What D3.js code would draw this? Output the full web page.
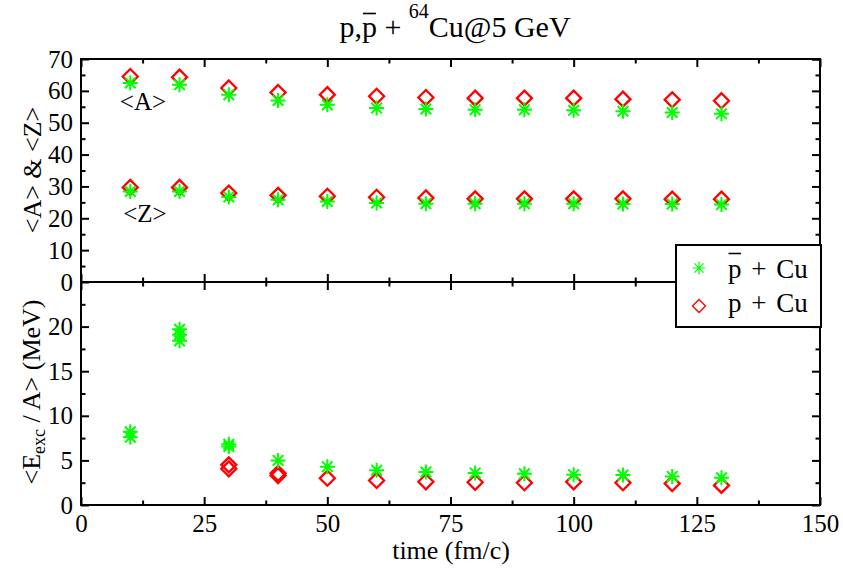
<!DOCTYPE html>
<html><head><meta charset="utf-8">
<script src="https://cdn.jsdelivr.net/npm/d3@7"></script>
<style>
html,body{margin:0;padding:0;background:#fff;}
text{font-family:"Liberation Serif","Times New Roman",serif;fill:#000;}
</style></head>
<body>
<svg id="c" width="843" height="569"></svg>
<script>
// ---- data ----
const times = [10,20,30,40,50,60,70,80,90,100,110,120,130];
const aPbar = [62.5,61.9,58.8,57.0,55.6,54.6,54.3,54.1,54.1,53.9,53.6,53.2,52.8];
const aP    = [64.5,64.3,60.9,59.5,58.8,58.3,57.9,57.7,57.7,57.7,57.4,57.2,56.9];
const zPbar = [28.4,28.4,26.7,25.8,25.3,24.8,24.6,24.6,24.6,24.6,24.5,24.5,24.3];
const zP    = [29.7,29.7,27.9,27.2,26.9,26.6,26.4,26.1,26.1,26.1,26.1,26.0,26.0];
const ePbarTimes  = [10,10,20,20,20,30,30,40,50,60,70,80,90,100,110,120,130];
const ePbarValues = [8.2,7.6,19.7,19.1,18.4,6.8,6.55,5.0,4.3,3.9,3.7,3.6,3.5,3.4,3.35,3.2,3.05];
const ePTimes  = [30,30,40,40,50,60,70,80,90,100,110,120,130];
const ePValues = [4.5,4.05,3.55,3.3,3.0,2.75,2.6,2.55,2.5,2.6,2.5,2.4,2.2];
const xTicks = [0,25,50,75,100,125,150];
const topYTicks = [0,10,20,30,40,50,60,70];
const botYTicks = [0,5,10,15,20];
const legendLabels = ["p + Cu","p + Cu"]; // first one has bar over p

// ---- layout ----
const svg = d3.select("#c");
const L = 81, R = 820, T1 = 59, M = 282, B2 = 505;
const x = d3.scaleLinear().domain([0,150]).range([L,R]);
const yTop = d3.scaleLinear().domain([0,70]).range([M,T1]);
const yBot = d3.scaleLinear().domain([0,25]).range([B2,M]);
const green = "#00ff00", red = "#ff0000";
const MAJ = 8, MIN = 4.5;

function drawAxes(y, yTicks, yMinorStep, yTop0, yBot0, showX) {
  const g = svg.append("g");
  const yMinor = d3.range(y.domain()[0], y.domain()[1] + 1e-9, yMinorStep).filter(v => !yTicks.includes(v) && v !== y.domain()[1]);
  const xMinor = d3.range(12.5, 150, 25);
  function style(sel){ sel.select(".domain").remove(); sel.selectAll("line").attr("stroke","#000").attr("stroke-width",2);
    sel.selectAll("text").attr("font-size",25).attr("font-family","Liberation Serif").attr("fill","#000"); }
  g.append("g").attr("transform",`translate(${L},0)`).call(d3.axisLeft(y).tickValues(yTicks).tickSize(-MAJ).tickPadding(8).tickFormat(d3.format("d"))).call(style);
  g.append("g").attr("transform",`translate(${L},0)`).call(d3.axisLeft(y).tickValues(yMinor).tickSize(-MIN).tickFormat("")).call(style);
  const yAll = yTicks.concat([y.domain()[1]]);
  g.append("g").attr("transform",`translate(${R},0)`).call(d3.axisRight(y).tickValues(yAll).tickSize(-MAJ).tickFormat("")).call(style);
  g.append("g").attr("transform",`translate(${R},0)`).call(d3.axisRight(y).tickValues(yMinor).tickSize(-MIN).tickFormat("")).call(style);
  g.append("g").attr("transform",`translate(0,${yBot0})`).call(d3.axisBottom(x).tickValues(xTicks).tickSize(-MAJ).tickPadding(9).tickFormat(showX ? d3.format("d") : "")).call(style);
  g.append("g").attr("transform",`translate(0,${yBot0})`).call(d3.axisBottom(x).tickValues(xMinor).tickSize(-MIN).tickFormat("")).call(style);
  g.append("g").attr("transform",`translate(0,${yTop0})`).call(d3.axisTop(x).tickValues(xTicks).tickSize(-MAJ).tickFormat("")).call(style);
  g.append("g").attr("transform",`translate(0,${yTop0})`).call(d3.axisTop(x).tickValues(xMinor).tickSize(-MIN).tickFormat("")).call(style);
  g.append("rect").attr("x",L).attr("y",yTop0).attr("width",R-L).attr("height",yBot0-yTop0)
    .attr("fill","none").attr("stroke","#000").attr("stroke-width",2);
}

function star(sel, cx, cy, r, color, w) {
  const d = r*Math.SQRT1_2;
  const p = `M${cx-r},${cy}L${cx+r},${cy}M${cx},${cy-r}L${cx},${cy+r}M${cx-d},${cy-d}L${cx+d},${cy+d}M${cx-d},${cy+d}L${cx+d},${cy-d}`;
  sel.append("path").attr("d",p).attr("stroke",color).attr("stroke-width",w).attr("fill","none");
}
function diamond(sel, cx, cy, r, color, w) {
  const p = `M${cx},${cy-r}L${cx+r},${cy}L${cx},${cy+r}L${cx-r},${cy}Z`;
  sel.append("path").attr("d",p).attr("stroke",color).attr("stroke-width",w).attr("fill","none");
}

drawAxes(yTop, topYTicks, 5, T1, M, false);
drawAxes(yBot, botYTicks, 2.5, M, B2, true);

// ---- marks ----
const marks = svg.append("g");
times.forEach((t,i)=>{ diamond(marks, x(t), yTop(aP[i]), 7.5, red, 2.3); diamond(marks, x(t), yTop(zP[i]), 7.5, red, 2.3); });
ePTimes.forEach((t,i)=> diamond(marks, x(t), yBot(ePValues[i]), 7.5, red, 2.3));
times.forEach((t,i)=>{ star(marks, x(t), yTop(aPbar[i]), 7.5, green, 2); star(marks, x(t), yTop(zPbar[i]), 7.5, green, 2); });
ePbarTimes.forEach((t,i)=> star(marks, x(t), yBot(ePbarValues[i]), 7.5, green, 2));

// ---- annotations ----
svg.append("text").attr("x",143).attr("y",110).attr("text-anchor","middle").attr("font-size",25).text("<A>");
svg.append("text").attr("x",145).attr("y",222).attr("text-anchor","middle").attr("font-size",25).text("<Z>");

// ---- title ----
const title = svg.append("text").attr("x",455).attr("y",37).attr("text-anchor","middle").attr("font-size",30);
title.append("tspan").text("p,p + ");
title.append("tspan").attr("dy",-19).attr("font-size",20).text("64");
title.append("tspan").attr("dy",19).text("Cu@5 GeV");
{
  const n = title.node();
  const s = n.getStartPositionOfChar(2).x, e = n.getEndPositionOfChar(2).x;
  svg.append("line").attr("x1",s+1).attr("x2",e-1).attr("y1",13.5).attr("y2",13.5).attr("stroke","#000").attr("stroke-width",1.6);
}

// ---- axis titles ----
svg.append("text").attr("transform","translate(41,170) rotate(-90)").attr("text-anchor","middle").attr("font-size",26).text("<A> & <Z>");
const yt2 = svg.append("text").attr("transform","translate(40,392) rotate(-90)").attr("text-anchor","middle").attr("font-size",26);
yt2.append("tspan").text("<E");
yt2.append("tspan").attr("dy",5).attr("font-size",18).text("exc");
yt2.append("tspan").attr("dy",-5).text(" / A> (MeV)");
svg.append("text").attr("x",451).attr("y",559).attr("text-anchor","middle").attr("font-size",26).text("time (fm/c)");

// ---- legend ----
const lg = svg.append("g");
lg.append("rect").attr("x",676).attr("y",245).attr("width",R+1-676).attr("height",82)
  .attr("fill","#fff").attr("stroke","#000").attr("stroke-width",2);
star(lg, 699, 268, 6.5, green, 1.2);
diamond(lg, 699, 306, 6.5, red, 1.4);
const l1 = lg.append("text").attr("x",728).attr("y",278).attr("font-size",27).attr("word-spacing",3).text(legendLabels[0]);
lg.append("text").attr("x",728).attr("y",312).attr("font-size",27).attr("word-spacing",3).text(legendLabels[1]);
{
  const n = l1.node();
  const s = n.getStartPositionOfChar(0).x, e = n.getEndPositionOfChar(0).x;
  lg.append("line").attr("x1",s+0.5).attr("x2",e-0.5).attr("y1",253.5).attr("y2",253.5).attr("stroke","#000").attr("stroke-width",1.5);
}
</script>
</body></html>
